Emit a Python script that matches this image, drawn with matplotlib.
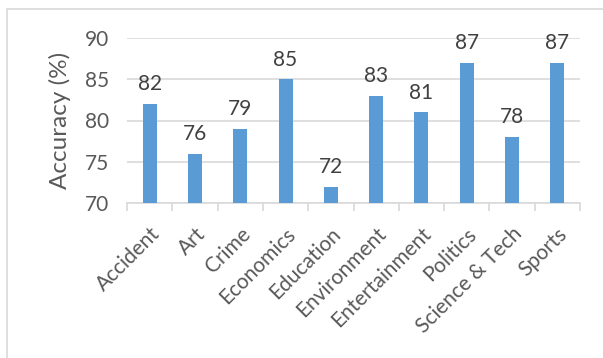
import matplotlib
matplotlib.use("Agg")
import matplotlib.pyplot as plt
from matplotlib.patches import Rectangle
import numpy as np

categories = ["Accident", "Art", "Crime", "Economics", "Education",
              "Environment", "Entertainment", "Politics", "Science & Tech", "Sports"]
accuracy = [82, 76, 79, 85, 72, 83, 81, 87, 78, 87]
y_ticks = [70, 75, 80, 85, 90]

W, H = 603, 358
plt.rcParams['font.family'] = ['Lato', 'DejaVu Sans']
text_color = "#595959"
grid_color = "#D9D9D9"
bar_color = "#5B9BD5"
fs = 15

fig = plt.figure(figsize=(W / 100, H / 100), dpi=100)
ax = fig.add_axes([127 / W, 1 - 203 / H, (580 - 127) / W, (203 - 38) / H])

x = np.arange(len(categories))
ax.bar(x, accuracy, width=0.31, color=bar_color, zorder=3)
for xi, v in zip(x, accuracy):
    ax.annotate(f"{v}", (xi, v), xytext=(0, 7), textcoords="offset points",
                ha="center", va="bottom", fontsize=fs, color="#404040")

ax.set_xlim(-0.5, len(categories) - 0.5)
ax.set_ylim(70, 90)
ax.set_yticks(y_ticks)
ax.set_yticklabels([str(t) for t in y_ticks], fontsize=fs, color=text_color)
ax.yaxis.grid(True, color=grid_color, linewidth=1.2, zorder=0)
ax.tick_params(axis="y", length=0, pad=13)

ax.set_xticks(x)
ax.set_xticklabels(categories, rotation=45, ha="right", va="top",
                   rotation_mode="anchor", fontsize=fs, color=text_color)
ax.tick_params(axis="x", length=0, pad=15)
ax.set_xticks(np.arange(len(categories) + 1) - 0.5, minor=True)
ax.tick_params(axis="x", which="minor", length=6, width=1.2, color=grid_color)

for side in ["top", "right", "left"]:
    ax.spines[side].set_visible(False)
ax.spines["bottom"].set_color(grid_color)
ax.spines["bottom"].set_linewidth(1.2)

ax.set_ylabel("Accuracy (%)", fontsize=17.5, color=text_color, labelpad=10)

fig.patches.append(Rectangle((7 / W, -0.1), 1.2, 1 - 9 / H + 0.1,
                             transform=fig.transFigure, fill=False,
                             edgecolor=grid_color, linewidth=1.2))

fig.savefig("out.png", dpi=100)
